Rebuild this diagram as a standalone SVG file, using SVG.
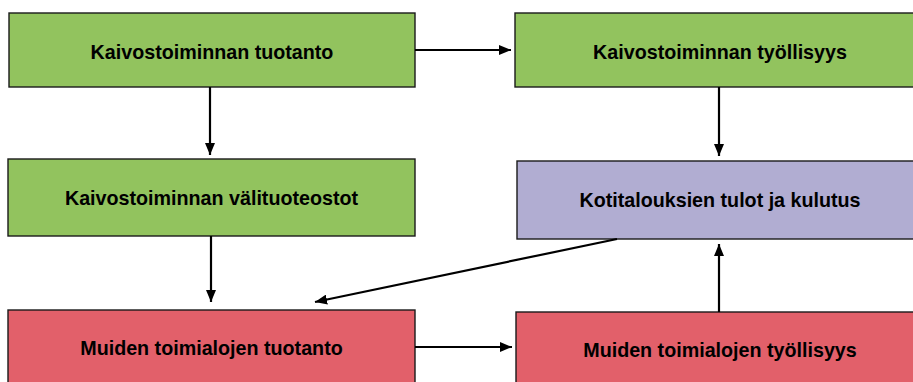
<svg xmlns="http://www.w3.org/2000/svg" width="913" height="382" viewBox="0 0 913 382">
<style>
.box{stroke:#1a1a1a;stroke-width:1.4}
.g{fill:#92C35E}.p{fill:#B1ADD2}.r{fill:#E2606A}
text{font-family:"Liberation Sans",Arial,sans-serif;font-weight:bold;font-size:19.7px;fill:#000;text-anchor:middle}
.c{stroke:#000;stroke-width:2.2;fill:none;marker-end:url(#ah)}
</style>
<defs>
<marker id="ah" viewBox="0 0 12 10" refX="12" refY="5" markerWidth="5.5" markerHeight="4.6" orient="auto" markerUnits="strokeWidth">
<path d="M0,0L12,5L0,10z" fill="#000"/>
</marker>
</defs>
<rect width="913" height="382" fill="#fff"/>
<g id="n1"><rect class="box g" x="9" y="13" width="406" height="74"/><text x="212" y="59">Kaivostoiminnan tuotanto</text></g>
<g id="n2"><rect class="box g" x="515" y="13" width="410" height="74"/><text x="720" y="59">Kaivostoiminnan työllisyys</text></g>
<g id="n3"><rect class="box g" x="8" y="159" width="407" height="77"/><text x="211.5" y="205">Kaivostoiminnan välituoteostot</text></g>
<g id="n4"><rect class="box p" x="517" y="161" width="410" height="78"/><text x="720" y="207">Kotitalouksien tulot ja kulutus</text></g>
<g id="n5"><rect class="box r" x="8" y="310" width="407" height="80"/><text x="211.5" y="355">Muiden toimialojen tuotanto</text></g>
<g id="n6"><rect class="box r" x="516" y="312" width="410" height="80"/><text x="720" y="357">Muiden toimialojen työllisyys</text></g>
<g id="connectors">
<line class="c" x1="415" y1="50" x2="511" y2="50"/>
<line class="c" x1="210" y1="87" x2="210" y2="155"/>
<line class="c" x1="719" y1="87" x2="719" y2="156"/>
<line class="c" x1="211" y1="236" x2="211" y2="302"/>
<line class="c" x1="617" y1="239" x2="315" y2="302"/>
<line class="c" x1="415" y1="347" x2="512" y2="347"/>
<line class="c" x1="719" y1="312" x2="719" y2="244"/>
</g>
</svg>
